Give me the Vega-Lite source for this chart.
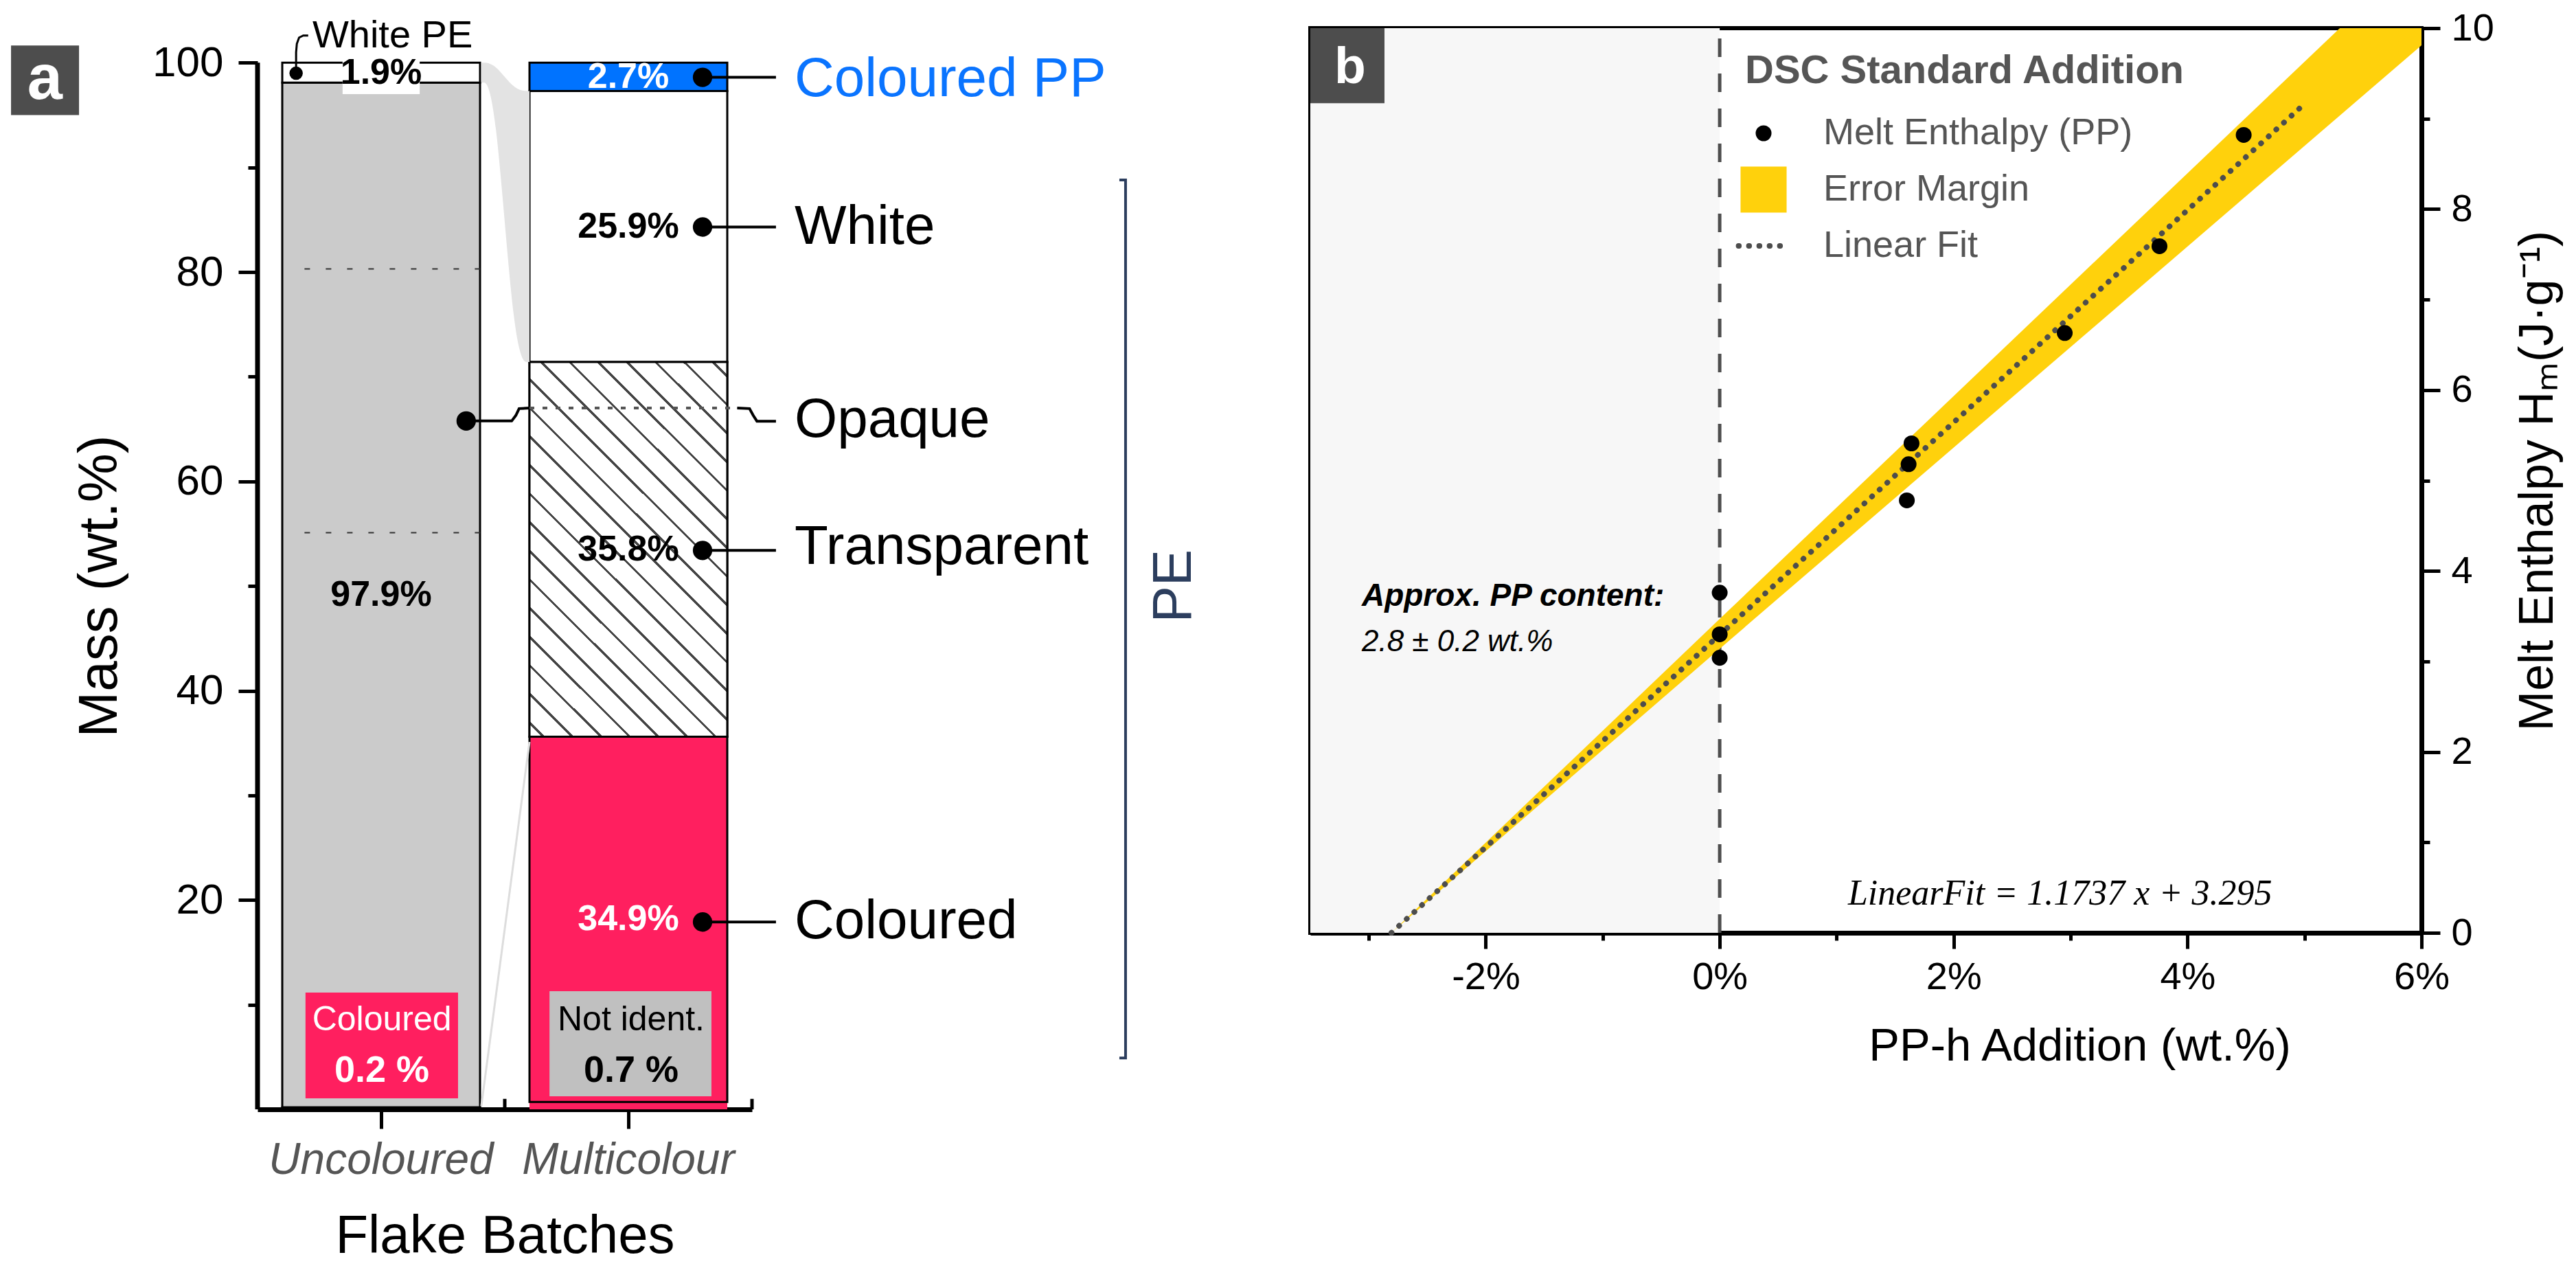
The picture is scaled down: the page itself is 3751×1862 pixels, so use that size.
{
  "$schema": "https://vega.github.io/schema/vega-lite/v6.json",
  "background": "white",
  "padding": {"left": 16, "top": 10, "right": 10, "bottom": 10},
  "bounds": "flush",
  "spacing": 813,
  "config": {"font": "Liberation Sans", "view": {"stroke": null}, "axis": {"grid": false, "labelColor": "black", "titleColor": "black", "domainColor": "black", "tickColor": "black", "titleFontWeight": "normal", "labelLimit": 1000},
    "legend": {"orient": "none", "legendX": 2166, "legendY": 34, "direction": "vertical",
      "titleFontSize": 58, "titleFontWeight": "bold", "titleColor": "#555555", "titlePadding": 34, "titleLimit": 2000,
      "labelFontSize": 54, "labelColor": "#555555", "labelOffset": 60, "labelLimit": 2000, "rowPadding": 21}},
  "hconcat": [
    {
      "width": 720,
      "height": 1574,
      "view": {"stroke": null},
      "layer": [
        {
          "data": {"values": [
            {"batch": "Uncoloured", "segment": "Coloured", "ord": 1, "pct": 0.2},
            {"batch": "Uncoloured", "segment": "Uncoloured PE", "ord": 2, "pct": 97.9},
            {"batch": "Uncoloured", "segment": "White PE", "ord": 3, "pct": 1.9},
            {"batch": "Multicolour", "segment": "Not ident.", "ord": 1, "pct": 0.7},
            {"batch": "Multicolour", "segment": "Coloured", "ord": 2, "pct": 34.9},
            {"batch": "Multicolour", "segment": "Transparent", "ord": 3, "pct": 35.8},
            {"batch": "Multicolour", "segment": "White", "ord": 4, "pct": 25.9},
            {"batch": "Multicolour", "segment": "Coloured PP", "ord": 5, "pct": 2.7}
          ]},
          "transform": [
            {"stack": "pct", "groupby": ["batch"], "sort": [{"field": "ord", "order": "ascending"}], "as": ["y0", "y1"]},
            {"calculate": "(datum.y0 + datum.y1) / 2", "as": "ymid"},
            {"calculate": "format(datum.pct, '.1f') + '%'", "as": "label"}
          ],
          "layer": [
            {
              "mark": {"type": "bar", "stroke": "black", "strokeWidth": 3},
              "encoding": {
                "x": {"field": "batch", "type": "nominal", "scale": {"domain": ["Uncoloured", "Multicolour"], "paddingInner": 0.2, "paddingOuter": 0.1},
                  "axis": {"orient": "bottom", "labelAngle": 0, "labelFontSize": 64, "labelFontStyle": "italic", "labelColor": "#555555", "labelPadding": 14, "tickSize": 28, "tickWidth": 5, "domainWidth": 7, "title": "Flake Batches", "titleFontSize": 78, "titlePadding": 40}},
                "y": {"field": "y0", "type": "quantitative", "scale": {"domain": [0, 103.3], "nice": false, "zero": false},
                  "axis": {"orient": "left", "values": [20, 40, 60, 80, 100], "domain": false, "tickSize": 28, "tickWidth": 5, "labelFontSize": 62, "labelPadding": 22, "title": "Mass (wt.%)", "titleFontSize": 80, "titlePadding": 35, "titleY": 812}},
                "y2": {"field": "y1"},
                "color": {"field": "segment", "type": "nominal", "legend": null,
                  "scale": {"domain": ["Coloured", "Uncoloured PE", "White PE", "Not ident.", "Transparent", "White", "Coloured PP"],
                            "range": ["#FF1F5F", "#CBCBCB", "#FFFFFF", "#FF1F5F", "#FFFFFF", "#FFFFFF", "#0073FF"]}},
                "strokeOpacity": {"condition": {"test": "datum.segment === 'Not ident.'", "value": 0}, "value": 1}
              }
            },
            {
              "transform": [{"filter": "datum.segment === 'Transparent'"}],
              "mark": {"type": "bar", "stroke": "black", "strokeWidth": 3,
                "fill": {"gradient": "linear", "x1": 0, "y1": 1, "x2": 0.63, "y2": -0.195, "stops": [
                  {"offset": 0, "color": "#ffffff"},
                  {"offset": 0.0222, "color": "#ffffff"}, {"offset": 0.0222, "color": "#444444"}, {"offset": 0.0278, "color": "#444444"}, {"offset": 0.0278, "color": "#ffffff"},
                  {"offset": 0.0722, "color": "#ffffff"}, {"offset": 0.0722, "color": "#444444"}, {"offset": 0.0778, "color": "#444444"}, {"offset": 0.0778, "color": "#ffffff"},
                  {"offset": 0.1222, "color": "#ffffff"}, {"offset": 0.1222, "color": "#444444"}, {"offset": 0.1278, "color": "#444444"}, {"offset": 0.1278, "color": "#ffffff"},
                  {"offset": 0.1722, "color": "#ffffff"}, {"offset": 0.1722, "color": "#444444"}, {"offset": 0.1778, "color": "#444444"}, {"offset": 0.1778, "color": "#ffffff"},
                  {"offset": 0.2222, "color": "#ffffff"}, {"offset": 0.2222, "color": "#444444"}, {"offset": 0.2278, "color": "#444444"}, {"offset": 0.2278, "color": "#ffffff"},
                  {"offset": 0.2722, "color": "#ffffff"}, {"offset": 0.2722, "color": "#444444"}, {"offset": 0.2778, "color": "#444444"}, {"offset": 0.2778, "color": "#ffffff"},
                  {"offset": 0.3222, "color": "#ffffff"}, {"offset": 0.3222, "color": "#444444"}, {"offset": 0.3278, "color": "#444444"}, {"offset": 0.3278, "color": "#ffffff"},
                  {"offset": 0.3722, "color": "#ffffff"}, {"offset": 0.3722, "color": "#444444"}, {"offset": 0.3778, "color": "#444444"}, {"offset": 0.3778, "color": "#ffffff"},
                  {"offset": 0.4222, "color": "#ffffff"}, {"offset": 0.4222, "color": "#444444"}, {"offset": 0.4278, "color": "#444444"}, {"offset": 0.4278, "color": "#ffffff"},
                  {"offset": 0.4722, "color": "#ffffff"}, {"offset": 0.4722, "color": "#444444"}, {"offset": 0.4778, "color": "#444444"}, {"offset": 0.4778, "color": "#ffffff"},
                  {"offset": 0.5222, "color": "#ffffff"}, {"offset": 0.5222, "color": "#444444"}, {"offset": 0.5278, "color": "#444444"}, {"offset": 0.5278, "color": "#ffffff"},
                  {"offset": 0.5722, "color": "#ffffff"}, {"offset": 0.5722, "color": "#444444"}, {"offset": 0.5778, "color": "#444444"}, {"offset": 0.5778, "color": "#ffffff"},
                  {"offset": 0.6222, "color": "#ffffff"}, {"offset": 0.6222, "color": "#444444"}, {"offset": 0.6278, "color": "#444444"}, {"offset": 0.6278, "color": "#ffffff"},
                  {"offset": 0.6722, "color": "#ffffff"}, {"offset": 0.6722, "color": "#444444"}, {"offset": 0.6778, "color": "#444444"}, {"offset": 0.6778, "color": "#ffffff"},
                  {"offset": 0.7222, "color": "#ffffff"}, {"offset": 0.7222, "color": "#444444"}, {"offset": 0.7278, "color": "#444444"}, {"offset": 0.7278, "color": "#ffffff"},
                  {"offset": 0.7722, "color": "#ffffff"}, {"offset": 0.7722, "color": "#444444"}, {"offset": 0.7778, "color": "#444444"}, {"offset": 0.7778, "color": "#ffffff"},
                  {"offset": 0.8222, "color": "#ffffff"}, {"offset": 0.8222, "color": "#444444"}, {"offset": 0.8278, "color": "#444444"}, {"offset": 0.8278, "color": "#ffffff"},
                  {"offset": 0.8722, "color": "#ffffff"}, {"offset": 0.8722, "color": "#444444"}, {"offset": 0.8778, "color": "#444444"}, {"offset": 0.8778, "color": "#ffffff"},
                  {"offset": 0.9222, "color": "#ffffff"}, {"offset": 0.9222, "color": "#444444"}, {"offset": 0.9278, "color": "#444444"}, {"offset": 0.9278, "color": "#ffffff"},
                  {"offset": 0.9722, "color": "#ffffff"}, {"offset": 0.9722, "color": "#444444"}, {"offset": 0.9778, "color": "#444444"}, {"offset": 0.9778, "color": "#ffffff"},
                  {"offset": 1, "color": "#ffffff"}
                ]}},
              "encoding": {
                "x": {"field": "batch", "type": "nominal"},
                "y": {"field": "y0", "type": "quantitative"},
                "y2": {"field": "y1"}
              }
            },
            {
              "transform": [{"filter": "datum.segment === 'White PE'"}],
              "mark": {"type": "bar", "color": "white", "width": {"band": 0.39}},
              "encoding": {
                "x": {"field": "batch", "type": "nominal"},
                "y": {"datum": 97.0, "type": "quantitative"},
                "y2": {"datum": 100.15}
              }
            },
            {
              "transform": [{"filter": "datum.pct >= 1"}],
              "mark": {"type": "text", "fontWeight": "bold", "fontSize": 52},
              "encoding": {
                "x": {"field": "batch", "type": "nominal"},
                "y": {"field": "ymid", "type": "quantitative"},
                "text": {"field": "label"},
                "color": {"condition": {"test": "datum.segment === 'Coloured PP' || (datum.segment === 'Coloured' && datum.batch === 'Multicolour')", "value": "white"}, "value": "black"}
              }
            }
          ]
        },
        {
          "layer": [
            {
              "data": {"values": [{}]},
              "mark": {"type": "rule", "strokeWidth": 7, "color": "black"},
              "encoding": {
                "x": {"datum": 0, "type": "quantitative", "scale": {"domain": [0, 2], "nice": false, "zero": false}, "axis": null},
                "y": {"datum": 0, "type": "quantitative", "scale": {"domain": [0, 103.3], "nice": false, "zero": false},
                  "axis": {"orient": "left", "values": [10, 30, 50, 70, 90], "labels": false, "domain": false, "tickSize": 14, "tickWidth": 5, "title": null}},
                "y2": {"datum": 100}
              }
            },
            {
              "data": {"values": [{"x": 0.905, "hi": 100, "lo": 98.1}, {"x": 0.96, "hi": 100, "lo": 98.1}, {"x": 1.04, "hi": 97.3, "lo": 71.4}, {"x": 1.1, "hi": 97.3, "lo": 71.4}]},
              "mark": {"type": "area", "interpolate": "basis", "color": "#e3e3e3"},
              "encoding": {
                "x": {"field": "x", "type": "quantitative", "axis": null},
                "y": {"field": "hi", "type": "quantitative"},
                "y2": {"field": "lo"}
              }
            },
            {
              "data": {"values": [{"x": 0.905, "y": 0.3}, {"x": 1.1, "y": 35.1}]},
              "mark": {"type": "line", "color": "#dddddd", "strokeWidth": 3},
              "encoding": {
                "x": {"field": "x", "type": "quantitative", "axis": null},
                "y": {"field": "y", "type": "quantitative"}
              }
            },
            {
              "data": {"values": [{"x": 1}, {"x": 2}]},
              "mark": {"type": "rule", "strokeWidth": 5, "color": "black"},
              "encoding": {
                "x": {"field": "x", "type": "quantitative", "axis": null},
                "y": {"datum": 0, "type": "quantitative"},
                "y2": {"datum": 1.0}
              }
            },
            {
              "data": {"values": [{"y": 80.3}, {"y": 55.1}]},
              "mark": {"type": "rule", "strokeWidth": 2, "color": "#333333", "strokeDash": [8, 23]},
              "encoding": {
                "x": {"datum": 0.19, "type": "quantitative", "axis": null},
                "x2": {"datum": 0.9},
                "y": {"field": "y", "type": "quantitative"}
              }
            },
            {
              "data": {"values": [{}]},
              "mark": {"type": "rect", "color": "#FF1F5F"},
              "encoding": {
                "x": {"datum": 0.194, "type": "quantitative", "axis": null}, "x2": {"datum": 0.811},
                "y": {"datum": 1.05, "type": "quantitative"}, "y2": {"datum": 11.15}
              }
            },
            {
              "data": {"values": [{}]},
              "mark": {"type": "rect", "color": "#C0C0C0"},
              "encoding": {
                "x": {"datum": 1.181, "type": "quantitative", "axis": null}, "x2": {"datum": 1.836},
                "y": {"datum": 1.25, "type": "quantitative"}, "y2": {"datum": 11.28}
              }
            },
            {
              "data": {"values": [{"t": "Coloured", "x": 0.503, "y": 8.5}, {"t": "Not ident.", "x": 1.511, "y": 8.5}]},
              "mark": {"type": "text", "fontSize": 50},
              "encoding": {
                "x": {"field": "x", "type": "quantitative", "axis": null},
                "y": {"field": "y", "type": "quantitative"},
                "text": {"field": "t"},
                "color": {"condition": {"test": "datum.x < 1", "value": "white"}, "value": "black"}
              }
            },
            {
              "data": {"values": [{"t": "0.2 %", "x": 0.503, "y": 3.7}, {"t": "0.7 %", "x": 1.511, "y": 3.7}]},
              "mark": {"type": "text", "fontSize": 54, "fontWeight": "bold"},
              "encoding": {
                "x": {"field": "x", "type": "quantitative", "axis": null},
                "y": {"field": "y", "type": "quantitative"},
                "text": {"field": "t"},
                "color": {"condition": {"test": "datum.x < 1", "value": "white"}, "value": "black"}
              }
            },
            {
              "data": {"values": [{"y": 98.6}, {"y": 84.3}, {"y": 53.4}, {"y": 17.9}]},
              "mark": {"type": "rule", "strokeWidth": 4, "color": "black"},
              "encoding": {
                "x": {"datum": 1.8, "type": "quantitative", "axis": null}, "x2": {"datum": 2.097},
                "y": {"field": "y", "type": "quantitative"}
              }
            },
            {
              "data": {"values": [
                {"part": "left", "o": 1, "x": 0.844, "y": 65.77}, {"part": "left", "o": 2, "x": 1.028, "y": 65.77}, {"part": "left", "o": 3, "x": 1.045, "y": 66.3}, {"part": "left", "o": 4, "x": 1.058, "y": 66.95}, {"part": "left", "o": 5, "x": 1.1, "y": 67.0},
                {"part": "right", "o": 1, "x": 1.94, "y": 67.0}, {"part": "right", "o": 2, "x": 1.99, "y": 66.95}, {"part": "right", "o": 3, "x": 2.005, "y": 66.3}, {"part": "right", "o": 4, "x": 2.02, "y": 65.75}, {"part": "right", "o": 5, "x": 2.097, "y": 65.75}
              ]},
              "mark": {"type": "line", "strokeWidth": 4, "color": "black"},
              "encoding": {
                "x": {"field": "x", "type": "quantitative", "axis": null},
                "y": {"field": "y", "type": "quantitative"},
                "detail": {"field": "part"},
                "order": {"field": "o", "type": "quantitative"}
              }
            },
            {
              "data": {"values": [{}]},
              "mark": {"type": "rule", "strokeWidth": 4, "color": "#555555", "strokeDash": [7, 12]},
              "encoding": {
                "x": {"datum": 1.1, "type": "quantitative", "axis": null}, "x2": {"datum": 1.94},
                "y": {"datum": 67.0, "type": "quantitative"}
              }
            },
            {
              "data": {"values": [{"o": 1, "x": 0.156, "y": 99.0}, {"o": 2, "x": 0.156, "y": 101.0}, {"o": 3, "x": 0.159, "y": 101.8}, {"o": 4, "x": 0.168, "y": 102.4}, {"o": 5, "x": 0.185, "y": 102.6}, {"o": 6, "x": 0.205, "y": 102.6}]},
              "mark": {"type": "line", "strokeWidth": 3, "color": "black"},
              "encoding": {
                "x": {"field": "x", "type": "quantitative", "axis": null},
                "y": {"field": "y", "type": "quantitative"},
                "order": {"field": "o", "type": "quantitative"}
              }
            },
            {
              "data": {"values": [{"x": 1.8, "y": 98.6}, {"x": 1.8, "y": 84.3}, {"x": 1.8, "y": 53.4}, {"x": 1.8, "y": 17.9}, {"x": 0.844, "y": 65.77}]},
              "mark": {"type": "point", "filled": true, "size": 800, "color": "black", "opacity": 1},
              "encoding": {
                "x": {"field": "x", "type": "quantitative", "axis": null},
                "y": {"field": "y", "type": "quantitative"}
              }
            },
            {
              "data": {"values": [{}]},
              "mark": {"type": "point", "filled": true, "size": 380, "color": "black", "opacity": 1},
              "encoding": {
                "x": {"datum": 0.156, "type": "quantitative", "axis": null},
                "y": {"datum": 99.0, "type": "quantitative"}
              }
            },
            {
              "data": {"values": [{}]},
              "mark": {"type": "text", "fontSize": 56, "align": "left", "color": "black", "text": "White PE"},
              "encoding": {
                "x": {"datum": 0.222, "type": "quantitative", "axis": null},
                "y": {"datum": 102.6, "type": "quantitative"}
              }
            },
            {
              "data": {"values": [{"t": "Coloured PP", "y": 98.4}, {"t": "White", "y": 84.3}, {"t": "Opaque", "y": 65.8}, {"t": "Transparent", "y": 53.7}, {"t": "Coloured", "y": 17.9}]},
              "mark": {"type": "text", "fontSize": 80, "align": "left"},
              "encoding": {
                "x": {"datum": 2.172, "type": "quantitative", "axis": null},
                "y": {"field": "y", "type": "quantitative"},
                "text": {"field": "t"},
                "color": {"condition": {"test": "datum.t === 'Coloured PP'", "value": "#0A74FF"}, "value": "black"}
              }
            },
            {
              "data": {"values": [{"o": 1, "x": 3.486, "y": 88.8}, {"o": 2, "x": 3.511, "y": 88.8}, {"o": 3, "x": 3.511, "y": 4.9}, {"o": 4, "x": 3.486, "y": 4.9}]},
              "mark": {"type": "line", "strokeWidth": 4, "color": "#2C3E5E"},
              "encoding": {
                "x": {"field": "x", "type": "quantitative", "axis": null},
                "y": {"field": "y", "type": "quantitative"},
                "order": {"field": "o", "type": "quantitative"}
              }
            },
            {
              "data": {"values": [{}]},
              "mark": {"type": "text", "fontSize": 80, "angle": 270, "color": "#2C3E5E", "text": "PE"},
              "encoding": {
                "x": {"datum": 3.708, "type": "quantitative", "axis": null},
                "y": {"datum": 50, "type": "quantitative"}
              }
            },
            {
              "data": {"values": [{}]},
              "mark": {"type": "rect", "color": "#4D4D4D"},
              "encoding": {
                "x": {"datum": -0.997, "type": "quantitative", "axis": null}, "x2": {"datum": -0.722},
                "y": {"datum": 95.0, "type": "quantitative"}, "y2": {"datum": 101.64}
              }
            },
            {
              "data": {"values": [{}]},
              "mark": {"type": "text", "fontSize": 92, "fontWeight": "bold", "color": "white", "text": "a"},
              "encoding": {
                "x": {"datum": -0.86, "type": "quantitative", "axis": null},
                "y": {"datum": 98.4, "type": "quantitative"}
              }
            }
          ]
        }
      ],
      "resolve": {"scale": {"x": "independent", "color": "independent"}, "axis": {"x": "independent", "y": "independent"}}
    },
    {
      "width": 1618,
      "height": 1317,
      "view": {"stroke": "black", "strokeWidth": 6},
      "layer": [
        {
          "layer": [
            {
              "data": {"values": [{}]},
              "mark": {"type": "rect", "color": "#F7F7F7"},
              "encoding": {
                "x": {"datum": -3.5, "type": "quantitative", "scale": {"domain": [-3.5, 6], "nice": false, "zero": false},
                  "axis": {"orient": "bottom", "values": [-2, 0, 2, 4, 6], "labelExpr": "datum.value + '%'", "labelFlush": false, "tickSize": 23, "tickWidth": 5, "domainWidth": 7, "labelFontSize": 56, "labelPadding": 14, "title": "PP-h Addition (wt.%)", "titleFontSize": 67, "titlePadding": 40, "titleX": 1120}},
                "x2": {"datum": 0},
                "y": {"datum": 0, "type": "quantitative", "scale": {"domain": [0, 10], "nice": false, "zero": false},
                  "axis": {"orient": "right", "values": [0, 2, 4, 6, 8, 10], "format": "d", "tickSize": 27, "tickWidth": 5, "domainWidth": 7, "labelFontSize": 56, "labelPadding": 16, "title": "Melt Enthalpy Hₘ(J·g⁻¹)", "titleFontSize": 70, "titleAngle": 270, "titlePadding": 100}},
                "y2": {"datum": 10}
              }
            },
            {
              "data": {"values": [{}]},
              "mark": {"type": "rule", "color": "#4D4D4D", "strokeWidth": 5, "strokeDash": [27, 24]},
              "encoding": {
                "x": {"datum": 0, "type": "quantitative"},
                "y": {"datum": 0, "type": "quantitative"},
                "y2": {"datum": 10}
              }
            },
            {
              "data": {"values": [{"x": -2.807, "lo": 0, "hi": 0}, {"x": 0, "lo": 3.14, "hi": 3.47}, {"x": 6, "lo": 9.81, "hi": 10.86}]},
              "mark": {"type": "area", "clip": true, "opacity": 1},
              "encoding": {
                "x": {"field": "x", "type": "quantitative"},
                "y": {"field": "hi", "type": "quantitative"},
                "y2": {"field": "lo"},
                "color": {"datum": "Error Margin", "type": "nominal",
                  "scale": {"domain": ["Melt Enthalpy (PP)", "Error Margin", "Linear Fit"], "range": ["#000000", "#FFD10C", "#4D4D4D"]},
                  "legend": {"title": "DSC Standard Addition",
                    "encoding": {"symbols": {
                      "shape": {"value": {"expr": "datum.value === 'Linear Fit' ? 'stroke' : (datum.value === 'Error Margin' ? 'square' : 'circle')"}},
                      "size": {"value": {"expr": "datum.value === 'Linear Fit' ? 5300 : (datum.value === 'Error Margin' ? 4500 : 530)"}},
                      "fill": {"value": {"expr": "datum.value === 'Linear Fit' ? 'transparent' : (datum.value === 'Error Margin' ? '#FFD10C' : '#000000')"}},
                      "stroke": {"value": {"expr": "datum.value === 'Linear Fit' ? '#4D4D4D' : 'transparent'"}},
                      "strokeWidth": {"value": {"expr": "datum.value === 'Linear Fit' ? 8 : 0"}},
                      "strokeDash": {"value": {"expr": "datum.value === 'Linear Fit' ? [0.5, 14.5] : [1, 0]"}},
                      "strokeCap": {"value": "round"},
                      "opacity": {"value": 1}
                    }}}}
              }
            },
            {
              "data": {"values": [{"x": -2.807, "y": 0}, {"x": 4.98, "y": 9.14}]},
              "mark": {"type": "line", "strokeWidth": 8, "strokeDash": [0.5, 14.5], "strokeCap": "round"},
              "encoding": {
                "x": {"field": "x", "type": "quantitative"},
                "y": {"field": "y", "type": "quantitative"},
                "color": {"datum": "Linear Fit", "type": "nominal"}
              }
            },
            {
              "data": {"values": [
                {"x": 0, "y": 3.76}, {"x": 0, "y": 3.30}, {"x": 0, "y": 3.04},
                {"x": 1.60, "y": 4.78}, {"x": 1.615, "y": 5.18}, {"x": 1.64, "y": 5.41},
                {"x": 2.95, "y": 6.63}, {"x": 3.76, "y": 7.59}, {"x": 4.48, "y": 8.82}
              ]},
              "mark": {"type": "point", "filled": true, "size": 530, "opacity": 1},
              "encoding": {
                "x": {"field": "x", "type": "quantitative"},
                "y": {"field": "y", "type": "quantitative"},
                "color": {"datum": "Melt Enthalpy (PP)", "type": "nominal"}
              }
            },
            {
              "data": {"values": [{}]},
              "mark": {"type": "text", "fontSize": 46, "fontWeight": "bold", "fontStyle": "italic", "align": "left", "color": "black", "text": "Approx. PP content:"},
              "encoding": {"x": {"datum": -3.06, "type": "quantitative"}, "y": {"datum": 3.72, "type": "quantitative"}}
            },
            {
              "data": {"values": [{}]},
              "mark": {"type": "text", "fontSize": 44, "fontStyle": "italic", "align": "left", "color": "black", "text": "2.8 ± 0.2 wt.%"},
              "encoding": {"x": {"datum": -3.06, "type": "quantitative"}, "y": {"datum": 3.21, "type": "quantitative"}}
            },
            {
              "data": {"values": [{}]},
              "mark": {"type": "text", "fontSize": 52, "fontStyle": "italic", "font": "Liberation Serif", "color": "black", "text": "LinearFit = 1.1737 x + 3.295"},
              "encoding": {"x": {"datum": 2.91, "type": "quantitative"}, "y": {"datum": 0.43, "type": "quantitative"}}
            },
            {
              "data": {"values": [{}]},
              "mark": {"type": "rect", "color": "#4D4D4D"},
              "encoding": {"x": {"datum": -3.5, "type": "quantitative"}, "x2": {"datum": -2.866}, "y": {"datum": 9.17, "type": "quantitative"}, "y2": {"datum": 10}}
            },
            {
              "data": {"values": [{}]},
              "mark": {"type": "text", "fontSize": 75, "fontWeight": "bold", "color": "white", "text": "b"},
              "encoding": {"x": {"datum": -3.16, "type": "quantitative"}, "y": {"datum": 9.57, "type": "quantitative"}}
            }
          ]
        },
        {
          "data": {"values": [{}]},
          "mark": {"type": "point", "opacity": 0},
          "encoding": {
            "x": {"datum": 0, "type": "quantitative", "scale": {"domain": [-3.5, 6], "nice": false, "zero": false},
              "axis": {"orient": "bottom", "values": [-3, -1, 1, 3, 5], "labels": false, "domain": false, "tickSize": 11, "tickWidth": 5, "title": null}},
            "y": {"datum": 0, "type": "quantitative", "scale": {"domain": [0, 10], "nice": false, "zero": false},
              "axis": {"orient": "right", "values": [1, 3, 5, 7, 9], "labels": false, "domain": false, "tickSize": 12, "tickWidth": 5, "title": null}}
          }
        }
      ],
      "resolve": {"axis": {"x": "independent", "y": "independent"}}
    }
  ]
}
